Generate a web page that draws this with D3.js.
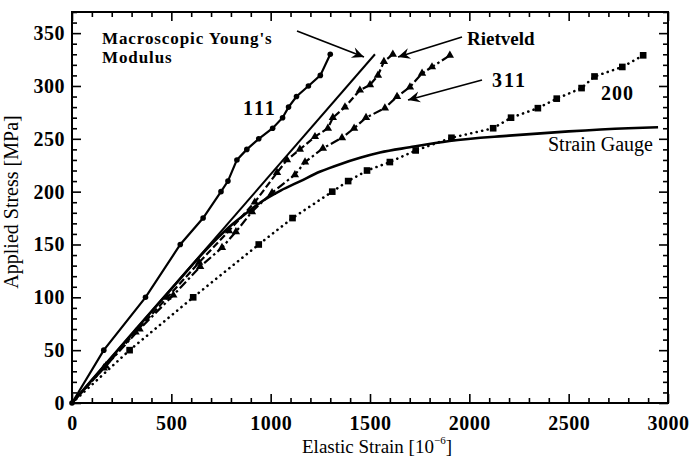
<!DOCTYPE html>
<html>
<head>
<meta charset="utf-8">
<script src="https://cdn.jsdelivr.net/npm/d3@7/dist/d3.min.js"></script>
<style>
  html, body { margin: 0; padding: 0; background: #fff; }
  svg { display: block; }
  svg text { font-family: "Liberation Serif", "Times New Roman", serif !important; fill: #000; }
</style>
</head>
<body>
<svg id="chart" width="693" height="468"></svg>
<script>
// ---- Data ----
const xTicks = [0, 500, 1000, 1500, 2000, 2500, 3000];
const yTicks = [0, 50, 100, 150, 200, 250, 300, 350];

const strain111 = [0, 160, 370, 545, 660, 750, 785, 830, 880, 940, 1010, 1060, 1090, 1130, 1190, 1250, 1300];
const stress111 = [0, 50, 100, 150, 175, 200, 210, 230, 240, 250, 260, 270, 280, 290, 300, 310, 330];

const strainYoung = [0, 1525];
const stressYoung = [0, 330];

const strainRietveld = [0, 160, 320, 480, 640, 790, 920, 1032, 1082, 1147, 1223, 1288, 1313, 1374, 1449, 1500, 1540, 1570, 1615];
const stressRietveld = [0, 33, 67, 100, 133, 163, 190, 218, 230, 240, 252, 260, 270, 280, 296, 301, 310, 323, 330];

const strain311 = [0, 170, 340, 510, 645, 755, 825, 906, 1007, 1122, 1173, 1263, 1359, 1420, 1480, 1575, 1636, 1701, 1762, 1812, 1902];
const stress311 = [0, 35, 70, 102, 129, 147, 162, 181, 199, 216, 228, 241, 251, 260, 270, 279, 290, 299, 312, 318, 329];

const strain200 = [0, 290, 610, 940, 1110, 1310, 1390, 1485, 1600, 1730, 1910, 2120, 2210, 2345, 2440, 2565, 2630, 2770, 2875];
const stress200 = [0, 50, 100, 150, 175, 200, 210, 220, 228, 239, 251, 260, 270, 279, 288, 298, 309, 318, 329];

const strainGauge = [0, 500, 700, 800, 880, 950, 1050, 1150, 1250, 1350, 1450, 1550, 1700, 1900, 2200, 2500, 2800, 2950];
const stressGauge = [0, 108, 150, 168, 180, 190, 201, 210, 219, 226, 232, 237, 242, 248, 253, 257, 260, 261];

// ---- Layout ----
const svg = d3.select("#chart");
const L = 72, R = 668, T = 12, B = 403;
const x = d3.scaleLinear().domain([0, 3000]).range([L, R]);
const y = d3.scaleLinear().domain([0, 370]).range([B, T]);

const zip = (a, b) => a.map((v, i) => [v, b[i]]);
const line = d3.line().x(d => x(d[0])).y(d => y(d[1]));
const smooth = d3.line().x(d => x(d[0])).y(d => y(d[1])).curve(d3.curveMonotoneX);

// ---- Axes (inward ticks on all four sides) ----
const minorX = d3.range(0, 3001, 100).filter(v => v % 500 !== 0);
const minorY = d3.range(0, 371, 10).filter(v => v % 50 !== 0);

function styleAxis(g) {
  g.select(".domain").remove();
  g.attr("font-family", null);
  g.selectAll(".tick line").attr("stroke", "#000").attr("stroke-width", 1.6);
}

svg.append("g").attr("transform", `translate(0,${B})`)
  .call(d3.axisBottom(x).tickValues(xTicks).tickSize(-9).tickPadding(13).tickFormat(d3.format("d")))
  .call(styleAxis)
  .call(g => g.selectAll(".tick text").attr("font-size", 20).attr("font-weight", "bold")
    .attr("letter-spacing", "0.5px"));
svg.append("g").attr("transform", `translate(0,${B})`)
  .call(d3.axisBottom(x).tickValues(minorX).tickSize(-5).tickFormat(""))
  .call(styleAxis);
svg.append("g").attr("transform", `translate(0,${T})`)
  .call(d3.axisTop(x).tickValues(xTicks).tickSize(-9).tickFormat(""))
  .call(styleAxis);
svg.append("g").attr("transform", `translate(0,${T})`)
  .call(d3.axisTop(x).tickValues(minorX).tickSize(-5).tickFormat(""))
  .call(styleAxis);

svg.append("g").attr("transform", `translate(${L},0)`)
  .call(d3.axisLeft(y).tickValues(yTicks).tickSize(-9).tickPadding(7).tickFormat(d3.format("d")))
  .call(styleAxis)
  .call(g => g.selectAll(".tick text").attr("font-size", 20).attr("font-weight", "bold")
    .attr("letter-spacing", "0.5px"));
svg.append("g").attr("transform", `translate(${L},0)`)
  .call(d3.axisLeft(y).tickValues(minorY).tickSize(-5).tickFormat(""))
  .call(styleAxis);
svg.append("g").attr("transform", `translate(${R},0)`)
  .call(d3.axisRight(y).tickValues(yTicks).tickSize(-9).tickFormat(""))
  .call(styleAxis);
svg.append("g").attr("transform", `translate(${R},0)`)
  .call(d3.axisRight(y).tickValues(minorY).tickSize(-5).tickFormat(""))
  .call(styleAxis);

svg.append("rect").attr("x", L).attr("y", T).attr("width", R - L).attr("height", B - T)
  .attr("fill", "none").attr("stroke", "#000").attr("stroke-width", 2);

// Axis titles
const xt = svg.append("text").attr("x", 377).attr("y", 453).attr("text-anchor", "middle").attr("font-size", 19);
xt.append("tspan").text("Elastic Strain [10");
xt.append("tspan").attr("font-size", 11).attr("dy", -9).text("−6");
xt.append("tspan").attr("dy", 9).text("]");

svg.append("text").attr("transform", "translate(18,202) rotate(-90)")
  .attr("text-anchor", "middle").attr("font-size", 20).text("Applied Stress [MPa]");

// ---- Series ----
const plot = svg.append("g");

// 200: dotted with squares
plot.append("path").datum(zip(strain200, stress200)).attr("d", line)
  .attr("fill", "none").attr("stroke", "#000").attr("stroke-width", 2.6)
  .attr("stroke-linecap", "round").attr("stroke-dasharray", "0.1,5.5");
plot.append("g").selectAll("path").data(zip(strain200, stress200).slice(1)).join("path")
  .attr("transform", d => `translate(${x(d[0])},${y(d[1])})`)
  .attr("d", d3.symbol(d3.symbolSquare, 44));

// Strain gauge: solid thick
plot.append("path").datum(zip(strainGauge, stressGauge)).attr("d", smooth)
  .attr("fill", "none").attr("stroke", "#000").attr("stroke-width", 2.6);

// Young's modulus line
plot.append("path").datum(zip(strainYoung, stressYoung)).attr("d", line)
  .attr("fill", "none").attr("stroke", "#000").attr("stroke-width", 2);

// Rietveld: dashed with triangles
plot.append("path").datum(zip(strainRietveld, stressRietveld)).attr("d", line)
  .attr("fill", "none").attr("stroke", "#000").attr("stroke-width", 2.2)
  .attr("stroke-dasharray", "7,3");
plot.append("g").selectAll("path").data(zip(strainRietveld, stressRietveld).slice(1)).join("path")
  .attr("transform", d => `translate(${x(d[0])},${y(d[1])})`)
  .attr("d", d3.symbol(d3.symbolTriangle, 30));

// 311: dash-dot with triangles
plot.append("path").datum(zip(strain311, stress311)).attr("d", line)
  .attr("fill", "none").attr("stroke", "#000").attr("stroke-width", 2.2)
  .attr("stroke-dasharray", "9,3,2.5,3");
plot.append("g").selectAll("path").data(zip(strain311, stress311).slice(1)).join("path")
  .attr("transform", d => `translate(${x(d[0])},${y(d[1])})`)
  .attr("d", d3.symbol(d3.symbolTriangle, 30));

// 111: solid with circles
plot.append("path").datum(zip(strain111, stress111)).attr("d", line)
  .attr("fill", "none").attr("stroke", "#000").attr("stroke-width", 2.2);
plot.append("g").selectAll("circle").data(zip(strain111, stress111)).join("circle")
  .attr("cx", d => x(d[0])).attr("cy", d => y(d[1])).attr("r", 2.8);

// ---- Annotations ----
const defs = svg.append("defs");
defs.append("marker").attr("id", "arr").attr("viewBox", "-1 -6 14 12")
  .attr("markerWidth", 14).attr("markerHeight", 12).attr("refX", 12).attr("refY", 0)
  .attr("markerUnits", "userSpaceOnUse").attr("orient", "auto")
  .append("path").attr("d", "M0,-5.5 L12,0 L0,5.5 L4,0 Z").attr("fill", "#000");

function arrow(x1, y1, x2, y2) {
  svg.append("line").attr("x1", x1).attr("y1", y1).attr("x2", x2).attr("y2", y2)
    .attr("stroke", "#000").attr("stroke-width", 1.8).attr("marker-end", "url(#arr)");
}
arrow(297, 31, 364, 57);
arrow(462, 37, 398, 57);
arrow(482, 80, 408, 100);

svg.append("text").attr("x", 102).attr("y", 44).attr("font-size", 17).attr("font-weight", "bold")
  .attr("letter-spacing", "0.9px").text("Macroscopic Young's");
svg.append("text").attr("x", 102).attr("y", 63).attr("font-size", 17).attr("font-weight", "bold")
  .attr("letter-spacing", "0.9px").text("Modulus");
svg.append("text").attr("x", 467).attr("y", 45).attr("font-size", 19).attr("font-weight", "bold").text("Rietveld");
svg.append("text").attr("x", 492).attr("y", 87).attr("font-size", 20).attr("font-weight", "bold").attr("letter-spacing", "2px").text("311");
svg.append("text").attr("x", 601).attr("y", 100).attr("font-size", 20).attr("font-weight", "bold").attr("letter-spacing", "1px").text("200");
svg.append("text").attr("x", 243).attr("y", 115).attr("font-size", 20).attr("font-weight", "bold").attr("letter-spacing", "2px").text("111");
svg.append("text").attr("x", 548).attr("y", 151).attr("font-size", 20).text("Strain Gauge");
</script>
</body>
</html>
